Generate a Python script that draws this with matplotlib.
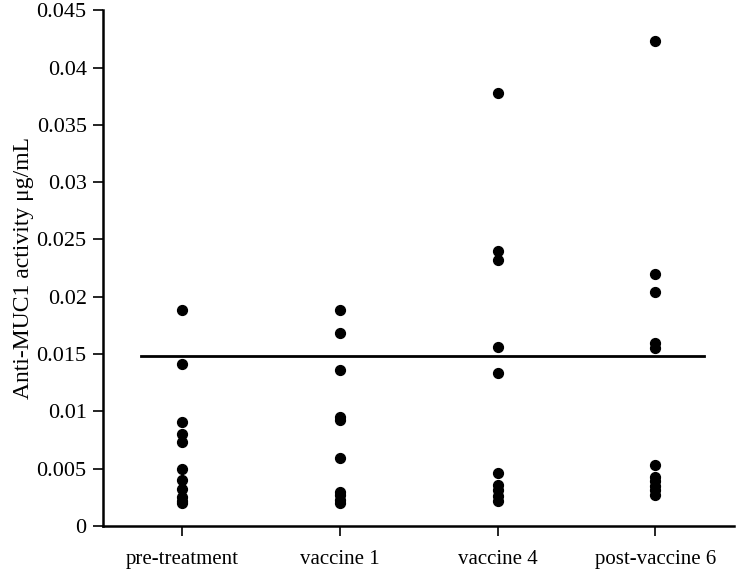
import matplotlib.pyplot as plt
import numpy as np

plt.rcParams['font.family'] = ['Liberation Serif', 'DejaVu Serif']

groups = ['pre-treatment', 'vaccine 1', 'vaccine 4', 'post-vaccine 6']

pre_treatment = [0.0188, 0.0141, 0.0091, 0.0080, 0.0073, 0.0050, 0.0040,
                 0.0032, 0.0025, 0.0022, 0.0020]
vaccine_1 = [0.0188, 0.0168, 0.0136, 0.0095, 0.0092, 0.0059, 0.0030,
             0.0027, 0.0023, 0.0020]
vaccine_4 = [0.0378, 0.0240, 0.0232, 0.0156, 0.0133, 0.0046, 0.0036,
             0.0031, 0.0026, 0.0022]
post_vaccine_6 = [0.0423, 0.0220, 0.0204, 0.0160, 0.0155, 0.0053, 0.0043,
                  0.0039, 0.0035, 0.0031, 0.0027]

cutoff = 0.0148

yticks = [0, 0.005, 0.01, 0.015, 0.02, 0.025, 0.03, 0.035, 0.04, 0.045]
yticklabels = ['0', '0.005', '0.01', '0.015', '0.02', '0.025', '0.03',
               '0.035', '0.04', '0.045']

fig = plt.figure(figsize=(7.38, 5.71), dpi=100)
ax = fig.add_axes([0.140, 0.079, 0.855, 0.903])

for i, vals in enumerate([pre_treatment, vaccine_1, vaccine_4, post_vaccine_6]):
    ax.scatter(np.full(len(vals), i), vals, s=50, color='black', zorder=3)

ax.plot([-0.26, 3.31], [cutoff, cutoff], color='black', lw=2)

ax.set_xlim(-0.5, 3.5)
ax.set_ylim(0, 0.045)
ax.set_xticks(range(len(groups)))
ax.set_xticklabels(groups, fontsize=15)
ax.set_yticks(yticks)
ax.set_yticklabels(yticklabels, fontsize=16)
ax.set_ylabel('Anti-MUC1 activity μg/mL', fontsize=17, labelpad=2)

ax.spines['top'].set_visible(False)
ax.spines['right'].set_visible(False)
ax.spines['left'].set_linewidth(1.8)
ax.spines['bottom'].set_linewidth(1.8)
ax.tick_params(direction='out', length=7, width=1.2)
ax.tick_params(axis='x', pad=10)
ax.tick_params(axis='y', pad=5)

fig.savefig('out.png', dpi=100)
